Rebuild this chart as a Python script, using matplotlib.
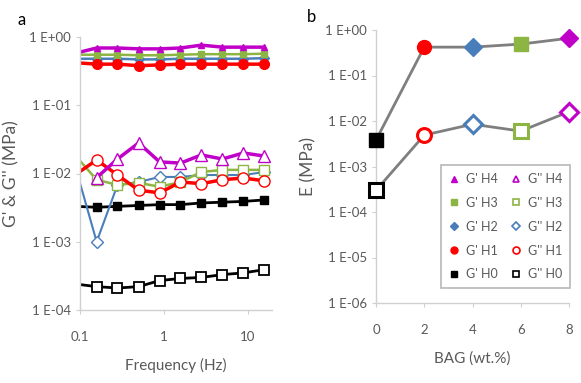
import numpy as np
import matplotlib
matplotlib.use("Agg")
import matplotlib.pyplot as plt
from matplotlib.ticker import FixedLocator, FuncFormatter
from matplotlib.lines import Line2D

plt.rcParams['font.family'] = ['Lato', 'DejaVu Sans']

# frequency sweep (Hz)
freq = [0.089, 0.158, 0.28, 0.5, 0.89, 1.58, 2.8, 5.0, 8.9, 15.8]

# storage modulus G' (MPa)
g1_h4 = [0.58, 0.69, 0.69, 0.67, 0.67, 0.69, 0.76, 0.71, 0.71, 0.71]
g1_h3 = [0.55, 0.55, 0.55, 0.54, 0.54, 0.55, 0.56, 0.56, 0.56, 0.57]
g1_h2 = [0.48, 0.48, 0.48, 0.47, 0.47, 0.48, 0.48, 0.48, 0.48, 0.49]
g1_h1 = [0.42, 0.40, 0.40, 0.38, 0.39, 0.40, 0.40, 0.40, 0.40, 0.40]
g1_h0 = [0.0033, 0.0032, 0.0033, 0.0034, 0.0035, 0.0035, 0.0037, 0.0038, 0.0039, 0.0041]

# loss modulus G'' (MPa)
freq_h4 = freq[1:]
g2_h4 = [0.0087, 0.0163, 0.028, 0.0148, 0.0142, 0.0187, 0.0163, 0.020, 0.018]
g2_h3 = [0.018, 0.0081, 0.0068, 0.0073, 0.0064, 0.0075, 0.0105, 0.0113, 0.0113, 0.0113]
g2_h2 = [0.012, 0.0010, 0.0068, 0.0075, 0.0089, 0.0089, 0.0095, 0.0095, 0.0095, 0.0105]
g2_h1 = [0.0097, 0.0158, 0.0095, 0.0057, 0.0052, 0.0075, 0.0071, 0.0081, 0.0086, 0.0078]
g2_h0 = [0.00024, 0.00022, 0.00021, 0.00022, 0.00027, 0.00029, 0.0003, 0.00033, 0.00035, 0.00039]

# panel b: modulus vs BAG content
bag = [0, 2, 4, 6, 8]
e_g1 = [0.0038, 0.42, 0.42, 0.49, 0.66]
e_g2 = [0.0003, 0.0049, 0.0085, 0.006, 0.016]

c_h4 = '#C000C8'
c_h3 = '#8DB543'
c_h2 = '#4A7EBB'
c_h1 = '#FF0000'
c_h0 = '#000000'
gray_txt = '#595959'
spine_c = '#D0D0D0'

fig = plt.figure(figsize=(5.81, 3.83), dpi=100)

def sci_fmt(v, pos):
    return "1 E{:+03d}".format(int(round(np.log10(v))))

def style_axes(ax):
    for s in ['top', 'right']:
        ax.spines[s].set_visible(False)
    for s in ['left', 'bottom']:
        ax.spines[s].set_color(spine_c)
        ax.spines[s].set_linewidth(1.0)
    ax.tick_params(colors=spine_c, labelcolor=gray_txt, labelsize=9.5, length=3, width=0.8)
    ax.tick_params(axis='x', pad=12)
    ax.minorticks_off()

# ---- panel a ----
ax1 = fig.add_axes([80 / 581, 1 - 310 / 383, 192 / 581, 273 / 383])
ax1.set_xscale('log')
ax1.set_yscale('log')

mk = range(1, 10)
ax1.plot(freq, g1_h0, color=c_h0, lw=2, marker='s', ms=6, markevery=mk)
ax1.plot(freq, g2_h0, color=c_h0, lw=2, marker='s', ms=7, mfc='white', mec=c_h0, mew=1.3, markevery=mk)
ax1.plot(freq, g1_h2, color=c_h2, lw=1.8, marker='D', ms=5, markevery=mk)
ax1.plot(freq, g1_h3, color=c_h3, lw=1.8, marker='s', ms=5, markevery=mk)
ax1.plot(freq, g1_h1, color=c_h1, lw=2.5, marker='o', ms=7, markevery=mk)
ax1.plot(freq, g1_h4, color=c_h4, lw=2.5, marker='^', ms=5, markevery=mk)
ax1.plot(freq, g2_h2, color=c_h2, lw=1.5, marker='D', ms=6, mfc='white', mec=c_h2, mew=1.0, markevery=mk)
ax1.plot(freq, g2_h3, color=c_h3, lw=1.8, marker='s', ms=7, mfc='white', mec=c_h3, mew=1.0, markevery=mk)
ax1.plot(freq, g2_h1, color=c_h1, lw=2.5, marker='o', ms=8, mfc='white', mec=c_h1, mew=1.0, markevery=mk)
ax1.plot(freq_h4, g2_h4, color=c_h4, lw=2.5, marker='^', ms=8, mfc='white', mec=c_h4, mew=1.0)

ax1.set_xlim(0.1, 19.5)
ax1.set_ylim(1e-4, 1)
ax1.xaxis.set_major_locator(FixedLocator([0.1, 1, 10]))
ax1.xaxis.set_major_formatter(FuncFormatter(lambda v, p: "{:g}".format(v)))
ax1.yaxis.set_major_locator(FixedLocator([1e-4, 1e-3, 1e-2, 1e-1, 1]))
ax1.yaxis.set_major_formatter(FuncFormatter(sci_fmt))
style_axes(ax1)
ax1.set_xlabel("Frequency (Hz)", fontsize=11, color=gray_txt, labelpad=11)
ax1.set_ylabel("G' & G'' (MPa)", fontsize=12.5, color=gray_txt, labelpad=7)
fig.text(22 / 581, 1 - 20 / 383, "a", fontsize=12, ha='center', va='center')

# ---- panel b ----
ax2 = fig.add_axes([376 / 581, 1 - 303 / 383, 193 / 581, 273 / 383])
ax2.set_yscale('log')
ax2.plot(bag, e_g1, color='#7F7F7F', lw=2, zorder=2)
ax2.plot(bag, e_g2, color='#7F7F7F', lw=2, zorder=2)

pt_colors = [c_h0, c_h1, c_h2, c_h3, c_h4]
pt_markers = ['s', 'o', 'D', 's', 'D']
pt_sizes = [10, 10, 9, 10, 9]
for x, y1, y2, c, m, s in zip(bag, e_g1, e_g2, pt_colors, pt_markers, pt_sizes):
    ax2.plot([x], [y1], marker=m, ms=s, color=c, ls='none', zorder=3, clip_on=False)
    ax2.plot([x], [y2], marker=m, ms=s, mfc='white', mec=c, mew=2.2, ls='none', zorder=3, clip_on=False)

ax2.set_xlim(0, 8)
ax2.set_ylim(1e-6, 1)
ax2.set_xticks(bag)
ax2.yaxis.set_major_locator(FixedLocator([1e-6, 1e-5, 1e-4, 1e-3, 1e-2, 1e-1, 1]))
ax2.yaxis.set_major_formatter(FuncFormatter(sci_fmt))
style_axes(ax2)
ax2.set_xlabel("BAG (wt.%)", fontsize=11, color=gray_txt, labelpad=11)
ax2.set_ylabel("E (MPa)", fontsize=12.5, color=gray_txt, labelpad=6)
fig.text(312 / 581, 1 - 17 / 383, "b", fontsize=12, ha='center', va='center')

# legend for both moduli, G' column then G'' column
names = ['H4', 'H3', 'H2', 'H1', 'H0']
leg_cols = [c_h4, c_h3, c_h2, c_h1, c_h0]
leg_marks = ['^', 's', 'D', 'o', 's']
leg_sizes = [5, 5, 4, 5, 5]
handles = []
labels = []
for n, c, m, s in zip(names, leg_cols, leg_marks, leg_sizes):
    handles.append(Line2D([], [], ls='none', marker=m, ms=s, color=c))
    labels.append("G' " + n)
for n, c, m, s in zip(names, leg_cols, leg_marks, leg_sizes):
    handles.append(Line2D([], [], ls='none', marker=m, ms=s, mfc='white', mec=c, mew=1.2))
    labels.append("G'' " + n)
leg = ax2.legend(handles, labels, ncol=2, loc='lower right', bbox_to_anchor=(1.005, 0.055),
                 fontsize=9, labelspacing=0.95, handlelength=0.9, handletextpad=0.5,
                 columnspacing=1.0, borderpad=0.6, borderaxespad=0, frameon=True, fancybox=False)
leg.get_frame().set_edgecolor('#A6A6A6')
leg.get_frame().set_linewidth(1.2)
for t in leg.get_texts():
    t.set_color(gray_txt)

fig.savefig("out.png", dpi=100)
